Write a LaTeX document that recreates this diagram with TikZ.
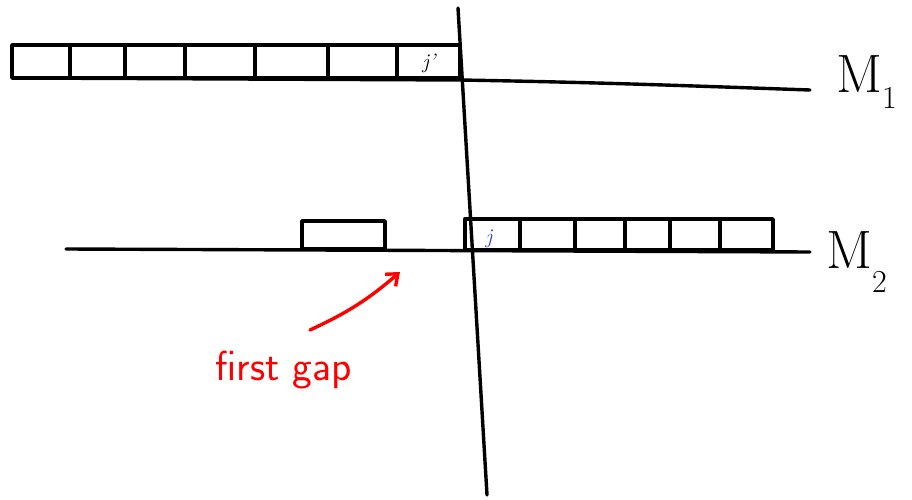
\documentclass[tikz,border=0pt]{standalone}
\usepackage{tikz}
\usetikzlibrary{arrows.meta,positioning,calc}
\definecolor{gapred}{HTML}{FF0000}
\definecolor{jobblue}{HTML}{2B3BD6}

\begin{document}
\begin{tikzpicture}[x=1pt, y=-1pt,
  ink/.style={line width=3.4pt, line cap=round, line join=round, black},
  mlabel/.style={font=\fontsize{54}{60}\selectfont, inner sep=0pt},
  tag/.style={font=\fontsize{21}{23}\selectfont\itshape, inner sep=0pt},
  arr/.style={-{Straight Barb[length=10pt,width=16pt]}, line width=3.4pt, line cap=round, color=gapred}
]
\useasboundingbox (0,0) rectangle (912,500);
% machine lines
\coordinate (m1a) at (14,78);
\coordinate (m1b) at (810,90);
\coordinate (m2a) at (66,249);
\coordinate (m2b) at (810,252);
\draw[ink] (m1a) -- (460,80) to[out=-1,in=178] (m1b);
\draw[ink] (m2a) -- (m2b);
\node[mlabel, anchor=west] (lm1) at (836,82) {M\raisebox{-0.3em}{\fontsize{32}{34}\selectfont 1}};
\node[mlabel, anchor=west] (lm2) at (826,262) {M\raisebox{-0.45em}{\fontsize{32}{34}\selectfont 2}};
% jobs on M1
\foreach \xa/\xb [count=\i] in {12/70,70/125,125/185,185/255,255/328,328/397,397/460}
  \draw[ink] (\xa,78) rectangle (\xb,45) coordinate (ja\i);
\node[tag] (jp) at (429,63) {j'};
% jobs on M2
\draw[ink] (302,249) rectangle (385,221);
\foreach \xa/\xb [count=\i] in {465/520,520/575,575/625,625/670,670/720,720/773}
  \draw[ink] (\xa,250) rectangle (\xb,219) coordinate (jb\i);
\node[tag, text=jobblue] (jj) at (489,239) {j};
% time line
\coordinate (tt) at (458,8);
\coordinate (tb) at (487,495);
\draw[ink] (tt) -- (tb);
% gap
\node[font=\fontsize{42}{46}\selectfont\sffamily, text=gapred, anchor=west] (gap) at (212,370) {first gap};
\coordinate (gapend) at (400,272);
\draw[arr] (310,330) to[bend right=8] (gapend);
\end{tikzpicture}
\end{document}
